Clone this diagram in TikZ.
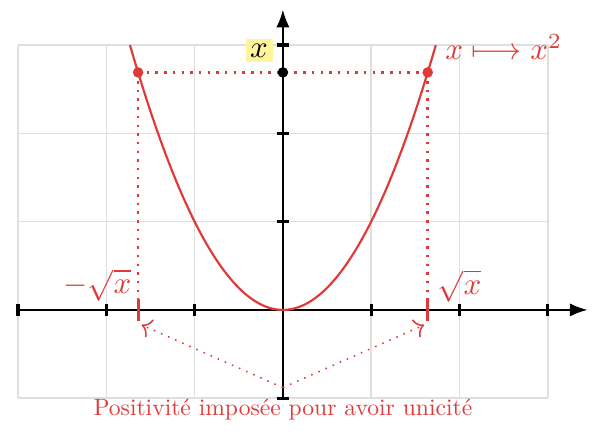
\documentclass[tikz,border=0pt]{standalone}
\usetikzlibrary{positioning,arrows.meta,calc}
\definecolor{curveRed}{HTML}{DF3A3A}
\definecolor{markYellow}{HTML}{FFF59D}

\begin{document}
\begin{tikzpicture}[x=1cm, y=1cm, >=Latex,
          gridline/.style={gray!25, line width=0.5pt},
          axis/.style={->, line width=0.6pt},
          tick/.style={line width=1pt},
          redtick/.style={line width=1pt, curveRed},
          guide/.style={curveRed, dotted, line width=0.8pt},
          hint/.style={curveRed, dotted, line width=0.5pt, -{To[length=3pt]}},
          lbl/.style={curveRed}]
        \useasboundingbox (-3.204,-1.36) rectangle (3.546,3.51);
        \draw[gridline] (-3,-1) grid (3,3);
        % axes and ticks
        \draw[axis] (-3,0) -- (3.45,0);
        \draw[axis] (0,-1) -- (0,3.4);
        \foreach \t in {-3,-2,-1,1,2,3} \draw[tick] (\t,-0.07) -- (\t,0.07);
        \foreach \t in {-1,1,2,3} \draw[tick] (-0.07,\t) -- (0.07,\t);
        % the curve
        \draw[curveRed, line width=0.7pt, domain=-1.732:1.732, samples=80] plot (\x,{\x*\x});
        \coordinate (pl) at (-1.64,2.69);
        \coordinate (pr) at (1.64,2.69);
        \coordinate (py) at (0,2.69);
        \coordinate (fl) at (-1.64,0);
        \coordinate (fr) at (1.64,0);
        \draw[guide] (pl) -- (pr);
        \draw[guide] (pl) -- (fl);
        \draw[guide] (pr) -- (fr);
        \draw[redtick] ($(fl)+(0,-0.12)$) -- ($(fl)+(0,0.12)$);
        \draw[redtick] ($(fr)+(0,-0.12)$) -- ($(fr)+(0,0.12)$);
        \fill[curveRed] (pl) circle (1.7pt) (pr) circle (1.7pt);
        \fill (py) circle (1.7pt);
        % labels
        \node[fill=markYellow, inner sep=1.5pt] (xval) at (-0.27,2.94) {$x$};
        \node[lbl] (fmap) at (2.5,2.98) {$x\longmapsto x^2$};
        \node[lbl] (mroot) at (-2.1,0.28) {$-\sqrt{x}$};
        \node[lbl] (proot) at (2.0,0.27) {$\sqrt{x}$};
        \coordinate (src) at (0,-0.88);
        \coordinate (hl) at (-1.6,-0.17);
        \coordinate (hr) at (1.6,-0.17);
        \draw[hint] (src) -- (hl);
        \draw[hint] (src) -- (hr);
        \node[curveRed, scale=0.76] (note) at (0,-1.13) {Positivit\'e impos\'ee pour avoir unicit\'e};
      \end{tikzpicture}
\end{document}
